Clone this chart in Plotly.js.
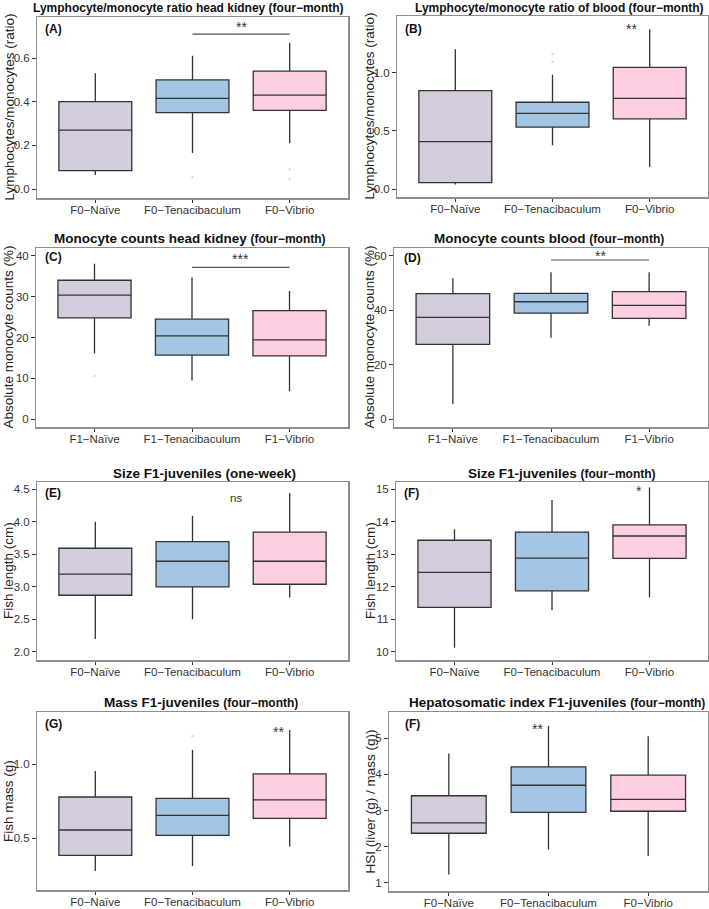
<!DOCTYPE html>
<html>
<head>
<meta charset="utf-8">
<script src="https://cdn.plot.ly/plotly-3.0.1.min.js"></script>
<style>html,body{margin:0;padding:0;background:#fff;}#chart{width:709px;height:909px;}</style>
</head>
<body>
<div id="chart"></div>
<script>
// ---------- categories ----------
const groupsF0 = ["F0\u2212Na\u00efve", "F0\u2212Tenacibaculum", "F0\u2212Vibrio"];
const groupsF1 = ["F1\u2212Na\u00efve", "F1\u2212Tenacibaculum", "F1\u2212Vibrio"];

// ---------- (A) Lymphocyte/monocyte ratio head kidney ----------
const A_lower  = [0.064, 0.165, 0.21];
const A_q1     = [0.084, 0.35, 0.36];
const A_median = [0.27, 0.415, 0.43];
const A_q3     = [0.40, 0.50, 0.54];
const A_upper  = [0.53, 0.61, 0.67];
const A_outCat = [1, 2, 2];
const A_outVal = [0.055, 0.09, 0.045];

// ---------- (B) Lymphocyte/monocyte ratio blood ----------
const B_lower  = [0.04, 0.376, 0.19];
const B_q1     = [0.055, 0.533, 0.604];
const B_median = [0.407, 0.65, 0.78];
const B_q3     = [0.846, 0.746, 1.046];
const B_upper  = [1.202, 0.983, 1.373];
const B_outCat = [1, 1];
const B_outVal = [1.094, 1.16];

// ---------- (C) Monocyte counts head kidney ----------
const C_lower  = [16.1, 9.45, 6.8];
const C_q1     = [24.8, 15.7, 15.5];
const C_median = [30.4, 20.4, 19.4];
const C_q3     = [34.05, 24.5, 26.6];
const C_upper  = [38.1, 34.7, 31.4];
const C_outCat = [0];
const C_outVal = [10.6];

// ---------- (D) Monocyte counts blood ----------
const D_lower  = [5.6, 29.9, 34.3];
const D_q1     = [27.5, 38.9, 37.0];
const D_median = [37.4, 43.1, 41.8];
const D_q3     = [46.1, 46.2, 46.8];
const D_upper  = [51.7, 53.9, 53.9];

// ---------- (E) Size F1-juveniles one-week ----------
const E_lower  = [2.2, 2.502, 2.835];
const E_q1     = [2.871, 2.999, 3.04];
const E_median = [3.194, 3.393, 3.393];
const E_q3     = [3.593, 3.696, 3.839];
const E_upper  = [3.998, 4.09, 4.44];

// ---------- (F) Size F1-juveniles four-month ----------
const F_lower  = [10.13, 11.28, 11.67];
const F_q1     = [11.37, 11.875, 12.87];
const F_median = [12.44, 12.88, 13.56];
const F_q3     = [13.43, 13.68, 13.90];
const F_upper  = [13.77, 14.67, 15.05];

// ---------- (G) Mass F1-juveniles ----------
const G_lower  = [0.279, 0.313, 0.445];
const G_q1     = [0.385, 0.52, 0.635];
const G_median = [0.556, 0.655, 0.759];
const G_q3     = [0.779, 0.77, 0.935];
const G_upper  = [0.955, 1.097, 1.232];
const G_outCat = [1];
const G_outVal = [1.19];

// ---------- (H) Hepatosomatic index ----------
const H_lower  = [1.23, 1.92, 1.74];
const H_q1     = [2.37, 2.95, 2.98];
const H_median = [2.66, 3.70, 3.31];
const H_q3     = [3.41, 4.21, 3.98];
const H_upper  = [4.58, 5.35, 5.06];

// ---------- tick labels ----------
const A_ticks = [0, 0.2, 0.4, 0.6], A_tickText = ["0.0", "0.2", "0.4", "0.6"];
const B_ticks = [0, 0.5, 1.0], B_tickText = ["0.0", "0.5", "1.0"];
const C_ticks = [0, 10, 20, 30, 40], C_tickText = ["0", "10", "20", "30", "40"];
const D_ticks = [0, 20, 40, 60], D_tickText = ["0", "20", "40", "60"];
const E_ticks = [2.0, 2.5, 3.0, 3.5, 4.0, 4.5], E_tickText = ["2.0", "2.5", "3.0", "3.5", "4.0", "4.5"];
const F_ticks = [10, 11, 12, 13, 14, 15], F_tickText = ["10", "11", "12", "13", "14", "15"];
const G_ticks = [0.5, 1.0], G_tickText = ["0.5", "1.0"];
const H_ticks = [1, 2, 3, 4, 5], H_tickText = ["1", "2", "3", "4", "5"];

// ---------- styling ----------
const fills = ["#d4ccda", "#a2c5e3", "#fdcde2"];
const W = 709, H = 909;
const FONT = "Liberation Sans, Arial, Helvetica, sans-serif";
const px = x => x / W;
const py = y => 1 - y / H;

const panels = [
  {id: "A", cats: groupsF0, lo: A_lower, q1: A_q1, med: A_median, q3: A_q3, hi: A_upper, oc: A_outCat, ov: A_outVal,
   box: [37, 348, 17, 198], yr: [-0.041, 0.788], tv: A_ticks, tt: A_tickText,
   title: "<b>Lymphocyte/monocyte ratio head kidney (four\u2212month)</b>", tsize: 12, tx: 189, ty: 8,
   ytitle: "Lymphocytes/monocytes (ratio)", ytx: 9, label: "(A)", lx: 43, ly: 29},
  {id: "B", cats: groupsF0, lo: B_lower, q1: B_q1, med: B_median, q3: B_q3, hi: B_upper, oc: B_outCat, ov: B_outVal,
   box: [397, 708, 16, 197], yr: [-0.068, 1.487], tv: B_ticks, tt: B_tickText,
   title: "<b>Lymphocyte/monocyte ratio of blood (four\u2212month)</b>", tsize: 12, tx: 559, ty: 8,
   ytitle: "Lymphocytes/monocytes (ratio)", ytx: 369, label: "(B)", lx: 403, ly: 29},
  {id: "C", cats: groupsF1, lo: C_lower, q1: C_q1, med: C_median, q3: C_q3, hi: C_upper, oc: C_outCat, ov: C_outVal,
   box: [36, 348, 248, 427], yr: [-1.96, 41.96], tv: C_ticks, tt: C_tickText,
   title: "<b>Monocyte counts head kidney <span style='font-size:12px'>(four\u2212month)</span></b>", tsize: 13.5, tx: 190, ty: 238,
   ytitle: "Absolute monocyte counts (%)", ytx: 8, label: "(C)", lx: 43, ly: 257},
  {id: "D", cats: groupsF1, lo: D_lower, q1: D_q1, med: D_median, q3: D_q3, hi: D_upper, oc: [], ov: [],
   box: [394, 708, 248, 427], yr: [-2.8, 62.8], tv: D_ticks, tt: D_tickText,
   title: "<b>Monocyte counts blood <span style='font-size:12px'>(four\u2212month)</span></b>", tsize: 13.5, tx: 549, ty: 238,
   ytitle: "Absolute monocyte counts (%)", ytx: 369, label: "(D)", lx: 402, ly: 258},
  {id: "E", cats: groupsF0, lo: E_lower, q1: E_q1, med: E_median, q3: E_q3, hi: E_upper, oc: [], ov: [],
   box: [37, 348, 482, 660], yr: [1.877, 4.61], tv: E_ticks, tt: E_tickText,
   title: "<b>Size F1-juveniles (one-week)</b>", tsize: 13.5, tx: 204, ty: 473,
   ytitle: "Fish length (cm)", ytx: 8, label: "(E)", lx: 43, ly: 493},
  {id: "F", cats: groupsF0, lo: F_lower, q1: F_q1, med: F_median, q3: F_q3, hi: F_upper, oc: [], ov: [],
   box: [396, 708, 482, 660], yr: [9.75, 15.22], tv: F_ticks, tt: F_tickText,
   title: "<b>Size F1-juveniles <span style='font-size:12px'>(four\u2212month)</span></b>", tsize: 13.5, tx: 562, ty: 473,
   ytitle: "Fish length (cm)", ytx: 370, label: "(F)", lx: 402, ly: 493},
  {id: "G", cats: groupsF0, lo: G_lower, q1: G_q1, med: G_median, q3: G_q3, hi: G_upper, oc: G_outCat, ov: G_outVal,
   box: [37, 348, 712, 890], yr: [0.151, 1.353], tv: G_ticks, tt: G_tickText,
   title: "<b>Mass F1-juveniles <span style='font-size:12px'>(four\u2212month)</span></b>", tsize: 13.5, tx: 201, ty: 702,
   ytitle: "Fish mass (g)", ytx: 8, label: "(G)", lx: 43, ly: 724},
  {id: "H", cats: groupsF0, lo: H_lower, q1: H_q1, med: H_median, q3: H_q3, hi: H_upper, oc: [], ov: [],
   box: [389, 708, 712, 891], yr: [0.77, 5.73], tv: H_ticks, tt: H_tickText,
   title: "<b>Hepatosomatic index F1-juveniles <span style='font-size:12px'>(four\u2212month)</span></b>", tsize: 13.5, tx: 557, ty: 702,
   ytitle: "HSI (liver (g) / mass (g))", ytx: 370, label: "(F)", lx: 403, ly: 724}
];

// significance marks per panel
const sigText = ["**", "**", "***", "**", "ns", "*", "**", "**"];
const sigX    = [1.5, 1.81, 1.5, 1.5, 1.45, 1.89, 1.885, 0.89];
const sigY    = [0.737, 1.37, 38.9, 59.6, 4.37, 14.9, 1.21, 5.23];
const sigBarY = [0.71, null, 37.2, 58.4, null, null, null, null];

const data = [];
const layout = {
  width: W, height: H, margin: {l: 0, r: 0, t: 0, b: 0},
  paper_bgcolor: "#ffffff", plot_bgcolor: "#ffffff",
  showlegend: false, boxmode: "overlay",
  font: {family: FONT, color: "#333"},
  annotations: [], shapes: []
};

panels.forEach((p, i) => {
  const n = i + 1;
  const xa = "x" + (n === 1 ? "" : n), ya = "y" + (n === 1 ? "" : n);
  const xk = "xaxis" + (n === 1 ? "" : n), yk = "yaxis" + (n === 1 ? "" : n);
  const [x0, x1, y0, y1] = p.box;
  for (let g = 0; g < 3; g++) {
    data.push({
      type: "box", x: [p.cats[g]], q1: [p.q1[g]], median: [p.med[g]], q3: [p.q3[g]],
      lowerfence: [p.lo[g]], upperfence: [p.hi[g]],
      fillcolor: fills[g], line: {color: "#333333", width: 1.3},
      whiskerwidth: 0, width: 0.75, boxpoints: false,
      xaxis: xa, yaxis: ya, hoverinfo: "skip"
    });
  }
  if (p.oc.length) {
    data.push({
      type: "scatter", mode: "markers",
      x: p.oc.map(c => p.cats[c]), y: p.ov,
      marker: {color: "#dcdcdc", size: 2.5},
      xaxis: xa, yaxis: ya, hoverinfo: "skip"
    });
  }
  layout[xk] = {
    domain: [px(x0), px(x1)], anchor: ya, type: "category",
    categoryorder: "array", categoryarray: p.cats, range: [-0.6, 2.6],
    showline: true, mirror: true, linecolor: "#8e8e8e", linewidth: 1.5,
    ticks: "outside", ticklen: 3.5, tickcolor: "#333", tickwidth: 1,
    ticklabelstandoff: -3,
    tickfont: {size: 11.5, color: "#333", family: FONT},
    showgrid: false, zeroline: false, fixedrange: true
  };
  layout[yk] = {
    domain: [py(y1), py(y0)], anchor: xa, range: p.yr,
    tickvals: p.tv, ticktext: p.tt,
    showline: true, mirror: true, linecolor: "#8e8e8e", linewidth: 1.5,
    ticks: "outside", ticklen: 3.5, tickcolor: "#333", tickwidth: 1,
    tickfont: {size: 11.5, color: "#333", family: FONT},
    showgrid: false, zeroline: false, fixedrange: true
  };
  layout.annotations.push({
    text: p.title, xref: "paper", yref: "paper", x: px(p.tx), y: py(p.ty),
    xanchor: "center", yanchor: "middle", showarrow: false,
    font: {size: p.tsize, color: "#111", family: FONT}
  });
  layout.annotations.push({
    text: p.ytitle, xref: "paper", yref: "paper", x: px(p.ytx), y: py((y0 + y1) / 2),
    xanchor: "center", yanchor: "middle", textangle: -90, showarrow: false,
    font: {size: 13.5, color: "#222", family: FONT}
  });
  layout.annotations.push({
    text: "<b>" + p.label + "</b>", xref: "paper", yref: "paper", x: px(p.lx), y: py(p.ly),
    xanchor: "left", yanchor: "middle", showarrow: false,
    font: {size: 12, color: "#111", family: FONT}
  });
  const isStar = sigText[i] !== "ns";
  layout.annotations.push({
    text: sigText[i], xref: xa, yref: ya, x: sigX[i], y: sigY[i],
    xanchor: "center", yanchor: "middle", showarrow: false, yshift: isStar ? 1 : 0,
    font: {size: isStar ? 14 : 11.5, color: "#333", family: FONT}
  });
  if (sigBarY[i] !== null) {
    layout.shapes.push({
      type: "line", xref: xa, yref: ya, x0: 1, x1: 2, y0: sigBarY[i], y1: sigBarY[i],
      line: {color: "#555", width: 1.2}
    });
  }
});

Plotly.newPlot("chart", data, layout, {staticPlot: true, displayModeBar: false});
</script>
</body>
</html>
